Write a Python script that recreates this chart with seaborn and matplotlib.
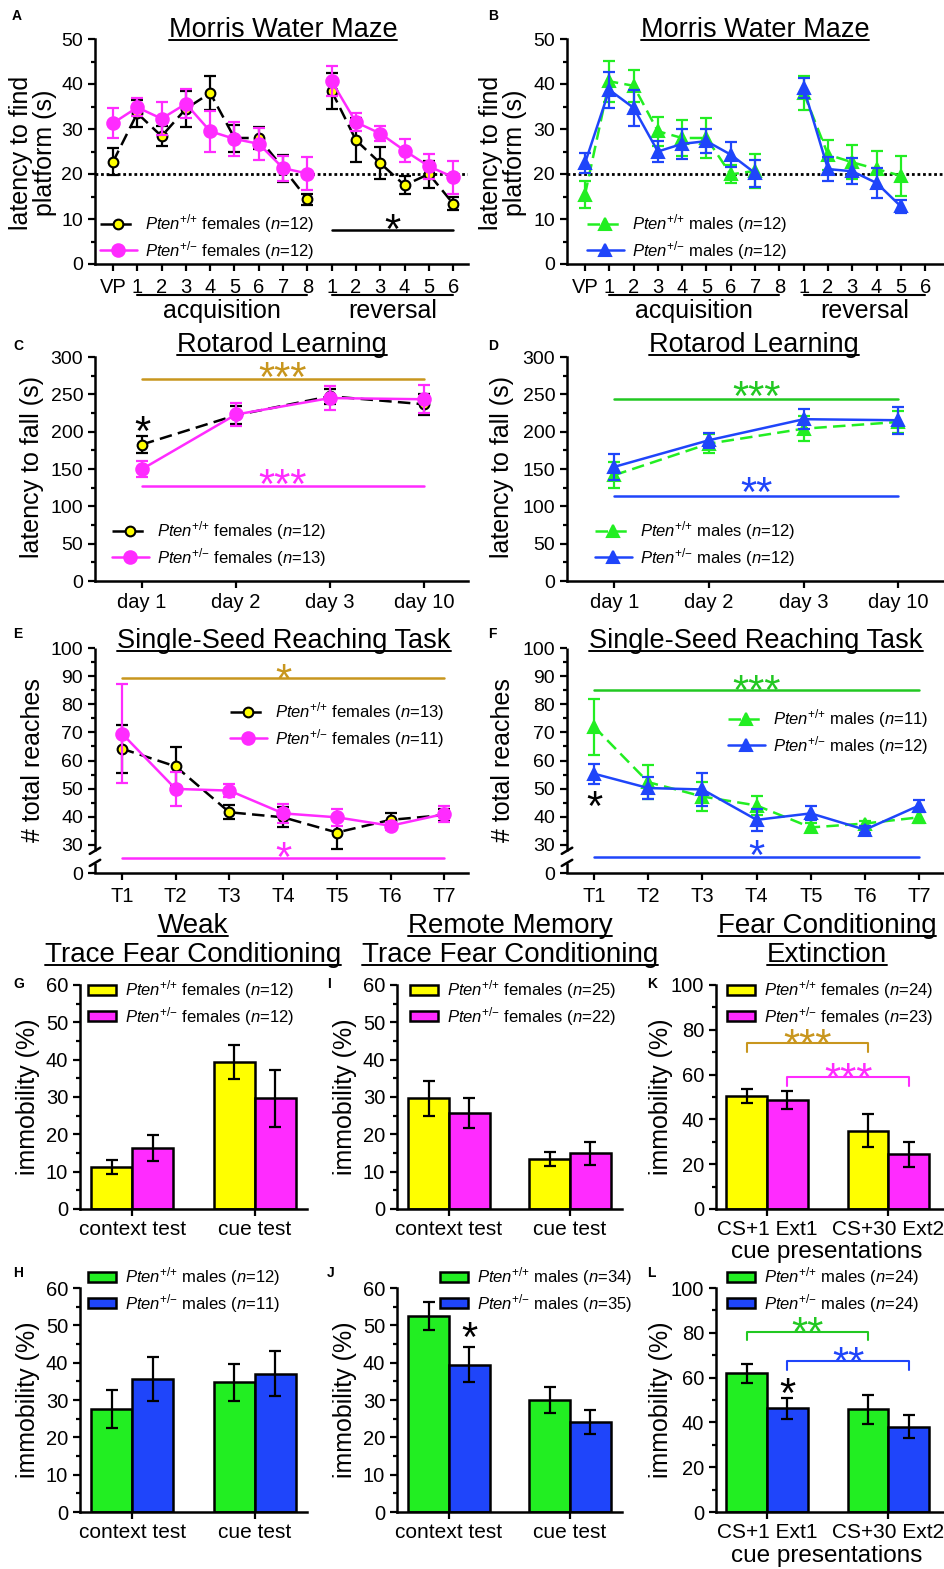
import numpy as np
import pandas as pd
import seaborn as sns
import matplotlib.pyplot as plt
from matplotlib.lines import Line2D
from matplotlib.patches import Patch
from matplotlib.ticker import MultipleLocator, FixedLocator

nan = np.nan

# ---------------- data (mean and SEM) ----------------
mwm_days = ['VP', '1', '2', '3', '4', '5', '6', '7', '8', '1', '2', '3', '4', '5', '6']
mwm_phase = ['acq'] * 9 + ['rev'] * 6

mwm_f_wt = [22.7, 33.5, 28.4, 34.5, 38.0, 28.0, 28.0, 21.3, 14.4, 38.4, 27.5, 22.4, 17.5, 20.0, 13.4]
mwm_f_wt_sem = [3.0, 3.0, 2.2, 4.0, 3.7, 3.0, 2.5, 3.0, 1.2, 4.0, 4.9, 3.5, 2.0, 3.0, 1.5]
mwm_f_het = [31.3, 34.8, 32.3, 35.6, 29.5, 27.8, 26.7, 21.3, 20.1, 40.6, 31.5, 29.0, 25.2, 21.7, 19.3]
mwm_f_het_sem = [3.3, 2.0, 3.6, 3.2, 4.6, 3.8, 3.5, 2.8, 3.6, 3.3, 2.0, 1.7, 2.5, 2.8, 3.7]
# males were run 7 acquisition and 5 reversal days
mwm_m_wt = [15.4, 40.6, 39.6, 29.5, 28.0, 28.0, 19.9, 20.7, nan, 38.0, 24.3, 22.6, 21.1, 19.6, nan]
mwm_m_wt_sem = [3.0, 4.5, 3.5, 3.2, 4.0, 4.4, 2.0, 3.8, nan, 3.8, 3.3, 3.8, 4.0, 4.5, nan]
mwm_m_het = [22.4, 38.7, 34.7, 25.0, 26.7, 27.3, 24.3, 20.2, nan, 39.1, 21.1, 20.6, 18.0, 12.8, nan]
mwm_m_het_sem = [2.2, 4.0, 4.0, 2.4, 3.3, 2.6, 2.8, 3.0, nan, 2.2, 2.7, 2.9, 3.3, 1.5, nan]

rot_days = ['day 1', 'day 2', 'day 3', 'day 10']
rot_f_wt = [182.8, 222.0, 247.4, 236.7]
rot_f_wt_sem = [11, 12, 10, 14]
rot_f_het = [149.8, 223.0, 245.0, 243.4]
rot_f_het_sem = [11, 15, 16, 19]
rot_m_wt = [141.8, 184.0, 204.0, 213.0]
rot_m_wt_sem = [17, 13, 17, 15]
rot_m_het = [152.9, 188.6, 216.7, 215.3]
rot_m_het_sem = [17, 10, 13, 18]

ssr_trials = ['T1', 'T2', 'T3', 'T4', 'T5', 'T6', 'T7']
ssr_f_wt = [64.2, 57.9, 41.6, 39.8, 34.4, 38.9, 40.6]
ssr_f_wt_sem = [8.5, 7.0, 2.5, 3.5, 6.0, 2.5, 2.0]
ssr_f_het = [69.6, 49.9, 49.3, 41.2, 39.8, 36.8, 41.0]
ssr_f_het_sem = [17.5, 6.0, 2.2, 3.5, 3.0, 1.5, 2.8]
ssr_m_wt = [72.0, 52.3, 47.2, 44.0, 36.2, 37.6, 39.8]
ssr_m_wt_sem = [10.0, 6.0, 5.0, 3.5, 1.5, 1.0, 2.0]
ssr_m_het = [55.3, 50.2, 49.7, 38.9, 41.2, 35.4, 44.0]
ssr_m_het_sem = [3.6, 3.8, 6.0, 4.0, 2.5, 1.2, 1.8]

tfc_tests = ['context test', 'cue test']
weak_f_wt, weak_f_wt_sem = [11.2, 39.3], [1.8, 4.5]
weak_f_het, weak_f_het_sem = [16.3, 29.6], [3.4, 7.7]
weak_m_wt, weak_m_wt_sem = [27.5, 34.7], [5.1, 5.0]
weak_m_het, weak_m_het_sem = [35.6, 37.0], [5.9, 6.0]
remote_f_wt, remote_f_wt_sem = [29.6, 13.4], [4.6, 2.0]
remote_f_het, remote_f_het_sem = [25.6, 14.9], [4.0, 3.1]
remote_m_wt, remote_m_wt_sem = [52.5, 30.0], [3.7, 3.4]
remote_m_het, remote_m_het_sem = [39.4, 24.2], [4.7, 3.2]

ext_sessions = ['CS+1 Ext1', 'CS+30 Ext2']
ext_f_wt, ext_f_wt_sem = [50.4, 35.0], [3.0, 7.4]
ext_f_het, ext_f_het_sem = [48.6, 24.4], [4.1, 5.6]
ext_m_wt, ext_m_wt_sem = [61.9, 45.8], [4.3, 6.4]
ext_m_het, ext_m_het_sem = [46.3, 38.1], [4.7, 5.0]

# group sizes for legends
n_mwm = {'f_wt': 12, 'f_het': 12, 'm_wt': 12, 'm_het': 12}
n_rot = {'f_wt': 12, 'f_het': 13, 'm_wt': 12, 'm_het': 12}
n_ssr = {'f_wt': 13, 'f_het': 11, 'm_wt': 11, 'm_het': 12}
n_weak = {'f_wt': 12, 'f_het': 12, 'm_wt': 12, 'm_het': 11}
n_remote = {'f_wt': 25, 'f_het': 22, 'm_wt': 34, 'm_het': 35}
n_ext = {'f_wt': 24, 'f_het': 23, 'm_wt': 24, 'm_het': 24}

# ---------------- style ----------------
YELLOW = '#FFFF00'
MAGENTA = '#FF2BFF'
GREEN = '#22EE22'
BLUE = '#1F45FA'
GOLD = '#C8961E'
LGREEN = '#22C822'

sns.set_theme(style='ticks')
plt.rcParams['font.family'] = ['Liberation Sans', 'DejaVu Sans']
plt.rcParams.update({
    'mathtext.fontset': 'custom',
    'mathtext.rm': 'Liberation Sans',
    'mathtext.it': 'Liberation Sans:italic',
    'mathtext.bf': 'Liberation Sans:bold',
    'axes.linewidth': 1.8,
    'axes.edgecolor': 'black',
    'xtick.color': 'black',
    'ytick.color': 'black',
    'xtick.major.width': 1.6,
    'ytick.major.width': 1.6,
    'ytick.minor.width': 1.6,
    'xtick.major.size': 5,
    'ytick.major.size': 5,
    'ytick.minor.size': 3,
    'xtick.labelsize': 14.5,
    'ytick.labelsize': 14,
    'text.color': 'black',
})

STY = {
    'f_wt': dict(color='black', ls=(0, (5, 2.5)), marker='o', mfc=YELLOW, mec='black', ms=7),
    'f_het': dict(color=MAGENTA, ls='-', marker='o', mfc=MAGENTA, mec=MAGENTA, ms=9),
    'm_wt': dict(color=GREEN, ls=(0, (5, 2.5)), marker='^', mfc=GREEN, mec=GREEN, ms=9),
    'm_het': dict(color=BLUE, ls='-', marker='^', mfc=BLUE, mec=BLUE, ms=9),
}
BAR_COL = {'f_wt': YELLOW, 'f_het': MAGENTA, 'm_wt': GREEN, 'm_het': BLUE}
SEX = {'f': 'females', 'm': 'males'}

W, H = 945, 1569
fig = plt.figure(figsize=(W / 100, H / 100), dpi=100)


def new_ax(l, t, r, b):
    ax = fig.add_axes([l / W, 1 - b / H, (r - l) / W, (b - t) / H])
    ax.spines[['top', 'right']].set_visible(False)
    return ax


def ftext(x, y, s, **kw):
    return fig.text(x / W, 1 - y / H, s, **kw)


def ay(ax, ypix):
    p = ax.get_position()
    return ((1 - ypix / H) - p.y0) / p.height


underlined = []


def title(x, y, s, size=19.5):
    t = ftext(x, y, s, ha='center', va='baseline', fontsize=size)
    underlined.append((t, y))


def star(ax, x, y, s, color, size=30):
    ax.annotate(s, (x, y), xytext=(0, -0.59 * size), textcoords='offset points',
                ha='center', va='baseline', color=color, fontsize=size,
                annotation_clip=False)


def label(key, n):
    sup = '{+}/{+}' if key.endswith('wt') else '{+}/{-}'
    return rf'$\mathit{{Pten}}^{{{sup}}}$ {SEX[key[0]]} ($\mathit{{n}}$={n})'


def line_legend(ax, keys, ns, x, y):
    hs = []
    for k in keys:
        s = STY[k]
        hs.append(Line2D([], [], color=s['color'], linestyle=s['ls'], lw=1.8, marker=s['marker'],
                         ms=s['ms'], mfc=s['mfc'], mec=s['mec'], mew=1.5))
    ax.legend(hs, [label(k, ns[k]) for k in keys], loc='center left',
              bbox_to_anchor=(x / W, 1 - y / H), bbox_transform=fig.transFigure,
              frameon=False, fontsize=12, handlelength=2.2, handletextpad=0.5,
              labelspacing=0.2, borderpad=0, borderaxespad=0)


def bar_legend(ax, keys, ns, x, y):
    hs = [Patch(facecolor=BAR_COL[k], edgecolor='black', lw=1.8) for k in keys]
    ax.legend(hs, [label(k, ns[k]) for k in keys], loc='center left',
              bbox_to_anchor=(x / W, 1 - y / H), bbox_transform=fig.transFigure,
              frameon=False, fontsize=12, handlelength=1.7, handleheight=0.6,
              handletextpad=0.5, labelspacing=0.2, borderpad=0, borderaxespad=0)


def series(ax, mean, sem, key, z, phase=None):
    s = STY[key]
    df = pd.DataFrame({'pos': np.arange(len(mean)), 'mean': mean, 'sem': sem,
                       'phase': phase if phase is not None else ['all'] * len(mean)}).dropna()
    ax.errorbar(df['pos'], df['mean'], yerr=df['sem'], fmt='none', ecolor=s['color'],
                elinewidth=1.6, capsize=4, capthick=1.6, zorder=z)
    for _, sub in df.groupby('phase', sort=False):
        sns.lineplot(data=sub, x='pos', y='mean', ax=ax, color=s['color'], linestyle=s['ls'],
                     lw=1.8, marker=s['marker'], markersize=s['ms'], markerfacecolor=s['mfc'],
                     markeredgecolor=s['mec'], markeredgewidth=1.5, errorbar=None, zorder=z + 0.5)
    ax.set(xlabel='', ylabel='')


def phase_bar(ax, x0, x1, text):
    tr = ax.get_xaxis_transform()
    ax.plot([x0, x1], [ay(ax, 295)] * 2, transform=tr, color='black', lw=1.5, clip_on=False)
    ax.text((x0 + x1) / 2, ay(ax, 318), text, transform=tr, ha='center', va='baseline', fontsize=18)


def sig_line(ax, x0, x1, y, color):
    ax.plot([x0, x1], [y, y], color=color, lw=1.8, zorder=1)


def bracket(ax, x0, x1, y, leg, color):
    ax.plot([x0, x0, x1, x1], [y - leg, y, y, y - leg], color=color, lw=1.5, zorder=6)


def bar_panel(ax, cats, wt, wt_sem, het, het_sem, keys, ylim, major, minor):
    df = pd.DataFrame({'test': cats * 2, 'geno': [keys[0]] * 2 + [keys[1]] * 2, 'mean': wt + het})
    sns.barplot(data=df, x='test', y='mean', hue='geno', hue_order=keys,
                palette={k: BAR_COL[k] for k in keys}, width=0.672, edgecolor='black',
                linewidth=1.8, errorbar=None, legend=False, saturation=1, ax=ax)
    centers = []
    for cont, sem in zip(ax.containers, [wt_sem, het_sem]):
        xs = [b.get_x() + b.get_width() / 2 for b in cont]
        ys = [b.get_height() for b in cont]
        ax.errorbar(xs, ys, yerr=sem, fmt='none', ecolor='black', elinewidth=1.6,
                    capsize=4, capthick=1.6, zorder=5)
        centers.append(xs)
    ax.set(xlabel='', ylabel='')
    ax.set_xlim(-0.43, 1.43)
    ax.set_ylim(*ylim)
    ax.yaxis.set_major_locator(MultipleLocator(major))
    ax.yaxis.set_minor_locator(MultipleLocator(minor))
    ax.tick_params(axis='x', pad=3, labelsize=15)
    ax.tick_params(axis='y', pad=3.5, labelsize=14.5)
    return centers


# ---------------- A / B : Morris water maze ----------------
for key_wt, key_het, box, lx, ylx, letter, lettx in [
        ('f_wt', 'f_het', (95, 39, 468, 264), 100, 33, 'A', 12),
        ('m_wt', 'm_het', (567, 39, 943, 264), 587, 503, 'B', 488)]:
    ax = new_ax(*box)
    if key_wt == 'f_wt':
        series(ax, mwm_f_wt, mwm_f_wt_sem, 'f_wt', 2, mwm_phase)
        series(ax, mwm_f_het, mwm_f_het_sem, 'f_het', 4, mwm_phase)
    else:
        series(ax, mwm_m_wt, mwm_m_wt_sem, 'm_wt', 2, mwm_phase)
        series(ax, mwm_m_het, mwm_m_het_sem, 'm_het', 4, mwm_phase)
    ax.axhline(20, color='black', ls=(0, (1, 1)), lw=2, zorder=1)
    ax.set_xlim(-0.74, (box[2] - (box[0] + 18)) / 24.3)
    ax.set_ylim(0, 50)
    ax.set_xticks(range(len(mwm_days)), mwm_days)
    ax.yaxis.set_major_locator(MultipleLocator(10))
    ax.yaxis.set_minor_locator(MultipleLocator(5))
    ax.tick_params(axis='x', pad=5)
    ax.tick_params(axis='y', pad=3.5)
    phase_bar(ax, 1, 8, 'acquisition')
    phase_bar(ax, 9, 14, 'reversal')
    line_legend(ax, [key_wt, key_het], n_mwm, lx, 237)
    if key_wt == 'f_wt':
        sig_line(ax, 9, 14, 7.5, 'black')
        star(ax, 11.5, 10.2, '*', 'black')
    ftext(ylx, 153, 'latency to find\nplatform (s)', rotation=90, ha='center', va='center',
          fontsize=18, linespacing=0.95)
    title(box[0] + 188, 36.7, 'Morris Water Maze')
    ftext(lettx, 20, letter, fontsize=10, fontweight='bold', va='baseline')

# ---------------- C / D : rotarod ----------------
for sex, box, lx, ylx, letter, lettx in [('f', (95, 357, 468, 581), 112, 32, 'C', 13),
                                         ('m', (567, 357, 943, 581), 595, 502, 'D', 488)]:
    ax = new_ax(*box)
    if sex == 'f':
        series(ax, rot_f_wt, rot_f_wt_sem, 'f_wt', 2)
        series(ax, rot_f_het, rot_f_het_sem, 'f_het', 4)
        sig_line(ax, 0, 3, 270, GOLD)
        star(ax, 1.5, 287, '***', GOLD)
        sig_line(ax, 0, 3, 127.5, MAGENTA)
        star(ax, 1.5, 144, '***', MAGENTA)
        star(ax, 0, 215, '*', 'black')
    else:
        series(ax, rot_m_wt, rot_m_wt_sem, 'm_wt', 2)
        series(ax, rot_m_het, rot_m_het_sem, 'm_het', 4)
        sig_line(ax, 0, 3, 244, LGREEN)
        star(ax, 1.5, 262, '***', LGREEN)
        sig_line(ax, 0, 3, 114, BLUE)
        star(ax, 1.5, 133, '**', BLUE)
    ax.set_xlim(-0.5, 3.47)
    ax.set_ylim(0, 300)
    ax.set_xticks(range(len(rot_days)), rot_days)
    ax.yaxis.set_major_locator(MultipleLocator(50))
    ax.yaxis.set_minor_locator(MultipleLocator(25))
    ax.tick_params(axis='x', pad=3.5)
    ax.tick_params(axis='y', pad=3.5)
    keys = [sex + '_wt', sex + '_het']
    line_legend(ax, keys, n_rot, lx, 544)
    ftext(ylx, 467, 'latency to fall (s)', rotation=90, ha='center', va='center', fontsize=18)
    title(box[0] + 187, 352, 'Rotarod Learning')
    ftext(lettx, 350, letter, fontsize=10, fontweight='bold', va='baseline')

# ---------------- E / F : single-seed reaching ----------------
for sex, box, lx, ly, ylx, letter, lettx in [('f', (95, 648, 468, 873), 230, 725, 33, 'E', 13),
                                             ('m', (567, 648, 943, 873), 728, 732, 503, 'F', 488)]:
    ax = new_ax(*box)
    if sex == 'f':
        series(ax, ssr_f_wt, ssr_f_wt_sem, 'f_wt', 2)
        series(ax, ssr_f_het, ssr_f_het_sem, 'f_het', 4)
        sig_line(ax, 0, 6, 89.3, GOLD)
        star(ax, 3, 92.8, '*', GOLD)
        sig_line(ax, 0, 6, 25.5, MAGENTA)
        star(ax, 3, 29.4, '*', MAGENTA)
    else:
        series(ax, ssr_m_wt, ssr_m_wt_sem, 'm_wt', 2)
        series(ax, ssr_m_het, ssr_m_het_sem, 'm_het', 4)
        sig_line(ax, 0, 6, 85.1, LGREEN)
        star(ax, 3, 88.9, '***', LGREEN)
        sig_line(ax, 0, 6, 25.8, BLUE)
        star(ax, 3, 30.0, '*', BLUE)
        star(ax, 0, 47.5, '*', 'black')
    ax.set_xlim(-0.5, 6.44)
    ax.set_ylim(20, 100)
    ax.set_xticks(range(len(ssr_trials)), ssr_trials)
    ax.yaxis.set_major_locator(FixedLocator([20, 30, 40, 50, 60, 70, 80, 90, 100]))
    ax.set_yticklabels(['0', '30', '40', '50', '60', '70', '80', '90', '100'])
    ax.yaxis.set_minor_locator(FixedLocator([35, 45, 55, 65, 75, 85, 95]))
    ax.tick_params(axis='x', pad=5)
    ax.tick_params(axis='y', pad=3.5)
    # broken y axis between 0 and 30
    ax.spines['left'].set_visible(False)
    ytr = ax.get_yaxis_transform()
    for y0, y1 in [(20, 23.6), (27.9, 100)]:
        ax.plot([0, 0], [y0, y1], transform=ytr, color='black', lw=1.8, clip_on=False,
                solid_capstyle='butt')
    for yb in (23.6, 27.9):
        ax.plot([-0.014, 0.014], [yb - 1.1, yb + 1.1], transform=ytr, color='black', lw=1.8,
                clip_on=False)
    keys = [sex + '_wt', sex + '_het']
    line_legend(ax, keys, n_ssr, lx, ly)
    ftext(ylx, 760, '# total reaches', rotation=90, ha='center', va='center', fontsize=18)
    title(box[0] + 189, 648, 'Single-Seed Reaching Task')
    ftext(lettx, 638, letter, fontsize=10, fontweight='bold', va='baseline')

# ---------------- G - L : fear conditioning bars ----------------
title(193, 933, 'Weak', 20)
title(193, 962, 'Trace Fear Conditioning', 20)
title(510, 933, 'Remote Memory', 20)
title(510, 962, 'Trace Fear Conditioning', 20)
title(827, 933, 'Fear Conditioning', 20)
title(827, 962, 'Extinction', 20)

rows = [('f', 985, 1209, 1003, 988, 1097, ['G', 'I', 'K']),
        ('m', 1288, 1512, 1290, 1277, 1400, ['H', 'J', 'L'])]
for sex, top, bot, legy, letty, ylaby, letters in rows:
    keys = [sex + '_wt', sex + '_het']
    data = {
        'weak': (weak_f_wt, weak_f_wt_sem, weak_f_het, weak_f_het_sem) if sex == 'f'
        else (weak_m_wt, weak_m_wt_sem, weak_m_het, weak_m_het_sem),
        'remote': (remote_f_wt, remote_f_wt_sem, remote_f_het, remote_f_het_sem) if sex == 'f'
        else (remote_m_wt, remote_m_wt_sem, remote_m_het, remote_m_het_sem),
        'ext': (ext_f_wt, ext_f_wt_sem, ext_f_het, ext_f_het_sem) if sex == 'f'
        else (ext_m_wt, ext_m_wt_sem, ext_m_het, ext_m_het_sem),
    }

    # weak trace FC
    ax = new_ax(80, top, 307, bot)
    bar_panel(ax, tfc_tests, *data['weak'], keys, (0, 60), 10, 5)
    bar_legend(ax, keys, n_weak, 88, legy)
    ftext(28, ylaby, 'immobility (%)', rotation=90, ha='center', va='center', fontsize=18)
    ftext(13, letty, letters[0], fontsize=10, fontweight='bold', va='baseline')

    # remote memory trace FC
    ax = new_ax(397, top, 622, bot)
    c = bar_panel(ax, tfc_tests, *data['remote'], keys, (0, 60), 10, 5)
    bar_legend(ax, keys, n_remote, 410 if sex == 'f' else 440, legy)
    if sex == 'm':
        star(ax, c[1][0], 49.8, '*', 'black')
    ftext(345, ylaby, 'immobility (%)', rotation=90, ha='center', va='center', fontsize=18)
    ftext(327, letty, letters[1], fontsize=10, fontweight='bold', va='baseline')

    # extinction
    ax = new_ax(716, top, 943, bot)
    c = bar_panel(ax, ext_sessions, *data['ext'], keys, (0, 100), 20, 10)
    ax.set_xlim(-0.42, 1.45)
    bar_legend(ax, keys, n_ext, 727, legy)
    if sex == 'f':
        bracket(ax, c[0][0], c[0][1], 74.0, 3.8, GOLD)
        star(ax, (c[0][0] + c[0][1]) / 2, 78.4, '***', GOLD)
        bracket(ax, c[1][0], c[1][1], 58.8, 3.8, MAGENTA)
        star(ax, (c[1][0] + c[1][1]) / 2, 63.2, '***', MAGENTA)
        ftext(827, 1258, 'cue presentations', ha='center', va='baseline', fontsize=17.5)
    else:
        bracket(ax, c[0][0], c[0][1], 80.3, 3.4, LGREEN)
        star(ax, (c[0][0] + c[0][1]) / 2, 85.0, '**', LGREEN)
        bracket(ax, c[1][0], c[1][1], 67.2, 4.0, BLUE)
        star(ax, (c[1][0] + c[1][1]) / 2, 71.6, '**', BLUE)
        star(ax, c[1][0], 58.0, '*', 'black')
        ftext(827, 1562, 'cue presentations', ha='center', va='baseline', fontsize=17.5)
    ftext(661, ylaby, 'immobility (%)', rotation=90, ha='center', va='center', fontsize=18)
    ftext(647, letty, letters[2], fontsize=10, fontweight='bold', va='baseline')

# underline the panel titles
renderer = fig.canvas.get_renderer()
for t, yb in underlined:
    bb = t.get_window_extent(renderer)
    fig.add_artist(Line2D([bb.x0 / W, bb.x1 / W], [1 - (yb + 3) / H] * 2,
                          transform=fig.transFigure, color='black', lw=1.4))

fig.savefig('out.png', dpi=100)
